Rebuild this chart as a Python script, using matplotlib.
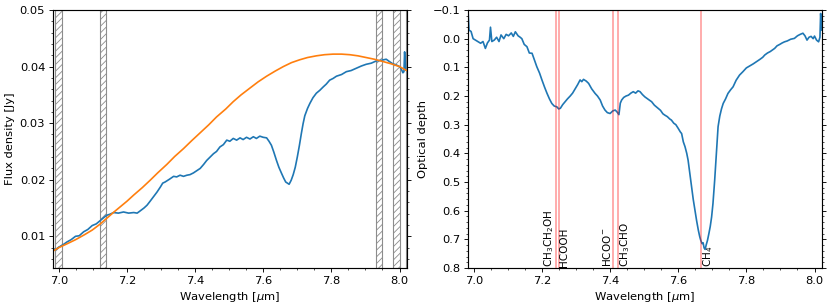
import numpy as np
import matplotlib
matplotlib.use('Agg')
import matplotlib.pyplot as plt
from matplotlib.ticker import AutoMinorLocator

# observed spectrum (left panel)
wl_flux = [6.983, 6.99, 7.0, 7.01, 7.024, 7.036, 7.049, 7.06, 7.073, 7.085,
           7.098, 7.11, 7.122, 7.13, 7.14, 7.15, 7.161, 7.175, 7.19, 7.205,
           7.22, 7.23, 7.239, 7.25, 7.259, 7.268, 7.278, 7.288, 7.298, 7.305,
           7.312, 7.325, 7.337, 7.346, 7.356, 7.366, 7.376, 7.385, 7.395, 7.405,
           7.415, 7.425, 7.434, 7.444, 7.454, 7.463, 7.473, 7.483, 7.493, 7.502,
           7.512, 7.522, 7.532, 7.541, 7.551, 7.561, 7.571, 7.58, 7.59, 7.6,
           7.61, 7.617, 7.624, 7.631, 7.639, 7.646, 7.654, 7.66, 7.666, 7.671,
           7.676, 7.682, 7.688, 7.694, 7.7, 7.706, 7.712, 7.717, 7.722, 7.73,
           7.737, 7.746, 7.756, 7.766, 7.776, 7.785, 7.795, 7.805, 7.815, 7.83,
           7.844, 7.858, 7.873, 7.888, 7.902, 7.917, 7.932, 7.946, 7.961, 7.97,
           7.98, 7.99, 8.0, 8.005, 8.01, 8.013, 8.015, 8.018, 8.021]
flux = [0.0079, 0.0076, 0.0081, 0.0084, 0.0090, 0.0094, 0.0100, 0.0101, 0.0108, 0.0112,
        0.0119, 0.0122, 0.0128, 0.0132, 0.0137, 0.0139, 0.0142, 0.0141, 0.0143, 0.0141,
        0.0142, 0.0141, 0.0145, 0.0150, 0.0155, 0.0162, 0.0170, 0.0178, 0.0187, 0.0194,
        0.0196, 0.0201, 0.0206, 0.0205, 0.0208, 0.0206, 0.0208, 0.0209, 0.0212, 0.0216,
        0.0220, 0.0227, 0.0234, 0.0240, 0.0246, 0.0250, 0.0258, 0.0262, 0.0270, 0.0268,
        0.0273, 0.0270, 0.0274, 0.0271, 0.0275, 0.0272, 0.0276, 0.0273, 0.0277, 0.0275,
        0.0274, 0.0268, 0.0261, 0.0249, 0.0234, 0.0222, 0.0211, 0.0203, 0.0196, 0.0194,
        0.0192, 0.0199, 0.0209, 0.0222, 0.0240, 0.0260, 0.0282, 0.0299, 0.0313, 0.0326,
        0.0335, 0.0345, 0.0353, 0.0358, 0.0364, 0.0369, 0.0376, 0.0379, 0.0383, 0.0386,
        0.0391, 0.0393, 0.0397, 0.0401, 0.0404, 0.0406, 0.0410, 0.0411, 0.0413, 0.0409,
        0.0405, 0.0403, 0.0400, 0.0396, 0.0389, 0.0391, 0.0426, 0.0394, 0.0393]

# fitted continuum
wl_cont = [6.983, 7.0, 7.025, 7.049, 7.073, 7.098, 7.12, 7.141, 7.16, 7.18,
           7.2, 7.22, 7.245, 7.268, 7.29, 7.317, 7.34, 7.366, 7.39, 7.415,
           7.44, 7.463, 7.49, 7.512, 7.535, 7.561, 7.585, 7.61, 7.635, 7.659,
           7.683, 7.707, 7.73, 7.756, 7.78, 7.805, 7.83, 7.854, 7.878, 7.902,
           7.926, 7.951, 7.975, 8.0, 8.021]
cont = [0.0074, 0.0080, 0.0087, 0.0094, 0.0102, 0.0111, 0.0121, 0.0132, 0.0142, 0.0152,
        0.0162, 0.0173, 0.0186, 0.0199, 0.0212, 0.0227, 0.0241, 0.0255, 0.0269, 0.0283,
        0.0297, 0.0311, 0.0325, 0.0338, 0.0350, 0.0362, 0.0373, 0.0383, 0.0392, 0.0400,
        0.0407, 0.0412, 0.0416, 0.0419, 0.0421, 0.0422, 0.0422, 0.0421, 0.0419, 0.0416,
        0.0413, 0.0409, 0.0405, 0.0400, 0.0393]

# continuum windows
windows = [(6.99, 7.01), (7.12, 7.14), (7.93, 7.95), (7.98, 8.0), (8.02, 8.04)]

# optical depth (right panel)
wl_tau = [6.983, 6.986, 6.992, 6.998, 7.005, 7.012, 7.02, 7.027, 7.034, 7.04,
          7.046, 7.049, 7.053, 7.06, 7.067, 7.074, 7.08, 7.088, 7.095, 7.102,
          7.11, 7.116, 7.122, 7.13, 7.136, 7.141, 7.148, 7.156, 7.163, 7.171,
          7.178, 7.185, 7.193, 7.2, 7.208, 7.215, 7.222, 7.229, 7.236, 7.244,
          7.249, 7.254, 7.261, 7.268, 7.275, 7.283, 7.29, 7.298, 7.305, 7.312,
          7.317, 7.322, 7.33, 7.337, 7.346, 7.356, 7.363, 7.371, 7.378, 7.385,
          7.392, 7.4, 7.408, 7.415, 7.42, 7.426, 7.43, 7.434, 7.44, 7.447,
          7.454, 7.461, 7.468, 7.475, 7.482, 7.488, 7.495, 7.502, 7.51, 7.516,
          7.522, 7.53, 7.536, 7.541, 7.548, 7.555, 7.561, 7.568, 7.575, 7.58,
          7.587, 7.593, 7.6, 7.606, 7.61, 7.615, 7.62, 7.625, 7.629, 7.634,
          7.639, 7.644, 7.649, 7.654, 7.659, 7.663, 7.666, 7.67, 7.673, 7.676,
          7.679, 7.682, 7.686, 7.69, 7.694, 7.698, 7.702, 7.707, 7.712, 7.717,
          7.722, 7.727, 7.732, 7.739, 7.746, 7.754, 7.761, 7.77, 7.78, 7.79,
          7.8, 7.81, 7.82, 7.83, 7.84, 7.848, 7.854, 7.862, 7.87, 7.876,
          7.883, 7.89, 7.898, 7.905, 7.912, 7.92, 7.93, 7.941, 7.95, 7.958,
          7.966, 7.972, 7.978, 7.984, 7.99, 7.996, 8.0, 8.006, 8.012, 8.016,
          8.018, 8.021]
tau = [-0.10, -0.03, -0.025, 0.0, 0.005, 0.01, 0.016, 0.01, 0.034, 0.015,
       0.005, -0.04, 0.01, 0.005, -0.005, 0.01, -0.013, 0.0, -0.015, -0.01,
       -0.02, -0.008, -0.024, -0.01, -0.005, 0.0, 0.02, 0.028, 0.05, 0.051,
       0.075, 0.098, 0.12, 0.144, 0.17, 0.191, 0.21, 0.226, 0.235, 0.238,
       0.245, 0.243, 0.23, 0.22, 0.21, 0.2, 0.19, 0.174, 0.16, 0.144,
       0.15, 0.142, 0.148, 0.156, 0.175, 0.191, 0.2, 0.214, 0.235, 0.249,
       0.258, 0.261, 0.252, 0.249, 0.255, 0.265, 0.225, 0.214, 0.205, 0.2,
       0.197, 0.19, 0.185, 0.19, 0.182, 0.185, 0.195, 0.203, 0.21, 0.215,
       0.22, 0.232, 0.238, 0.243, 0.25, 0.262, 0.267, 0.272, 0.28, 0.284,
       0.295, 0.3, 0.313, 0.325, 0.331, 0.36, 0.377, 0.4, 0.424, 0.47,
       0.517, 0.56, 0.598, 0.635, 0.668, 0.69, 0.703, 0.715, 0.712, 0.73,
       0.735, 0.72, 0.703, 0.68, 0.655, 0.622, 0.575, 0.494, 0.40, 0.307,
       0.27, 0.245, 0.226, 0.21, 0.191, 0.178, 0.168, 0.145, 0.127, 0.115,
       0.102, 0.095, 0.088, 0.08, 0.072, 0.065, 0.057, 0.05, 0.045, 0.04,
       0.034, 0.025, 0.02, 0.015, 0.011, 0.008, 0.002, -0.001, -0.01, -0.015,
       -0.019, -0.01, 0.005, -0.005, -0.008, 0.0, -0.009, 0.005, 0.011, -0.005,
       -0.088, -0.03]

# ice features
line_pos = [7.241, 7.249, 7.408, 7.424, 7.667]
line_labels = [r'CH$_3$CH$_2$OH', 'HCOOH', r'HCOO$^-$', r'CH$_3$CHO', r'CH$_4$']
label_side = ['right', 'left', 'right', 'left', 'left']

# the reference looks like a default figure shrunk by ~0.8
s = 0.8
plt.rcParams.update({
    'font.size': 10.3 * s,
    'axes.linewidth': 0.8 * s + 0.2,
    'axes.labelpad': 4 * s,
    'hatch.linewidth': 0.6,
    'xtick.major.size': 3.5 * s,
    'ytick.major.size': 3.5 * s,
    'xtick.minor.size': 2 * s,
    'ytick.minor.size': 2 * s,
    'xtick.major.pad': 3.5 * s,
    'ytick.major.pad': 3.5 * s,
    'xtick.major.width': 0.8 * s,
    'ytick.major.width': 0.8 * s,
    'xtick.minor.width': 0.6 * s,
    'ytick.minor.width': 0.6 * s,
})

fig = plt.figure(figsize=(8.31, 3.07), dpi=100)
ax1 = fig.add_axes([53 / 831, 39 / 307, 354 / 831, 258 / 307])
ax2 = fig.add_axes([468 / 831, 39 / 307, 354 / 831, 258 / 307])

ax1.plot(wl_flux, flux, color='C0', lw=1.5 * s)
ax1.plot(wl_cont, cont, color='C1', lw=1.5 * s)
for lo, hi in windows:
    ax1.axvspan(lo, hi, fill=False, hatch='/////', edgecolor='#8c8c8c', lw=0.8)
ax1.set_ylim(0.0044, 0.05)
ax1.set_ylabel('Flux density [Jy]')

ax2.plot(wl_tau, tau, color='C0', lw=1.5 * s)
for x, lab, side in zip(line_pos, line_labels, label_side):
    ax2.axvline(x, color='red', alpha=0.35, lw=1.3)
    ax2.text(x, 0.797, lab, rotation=90, ha=side, va='bottom', fontsize=9.3 * s)
ax2.set_ylim(0.8, -0.1)
ax2.set_ylabel('Optical depth')

for ax in (ax1, ax2):
    ax.set_xlim(6.983, 8.022)
    ax.set_xlabel(r'Wavelength [$\mu$m]')
    ax.xaxis.set_minor_locator(AutoMinorLocator())
    ax.yaxis.set_minor_locator(AutoMinorLocator())
    ax.tick_params(which='both', right=True)

fig.savefig('out.png', dpi=100)
